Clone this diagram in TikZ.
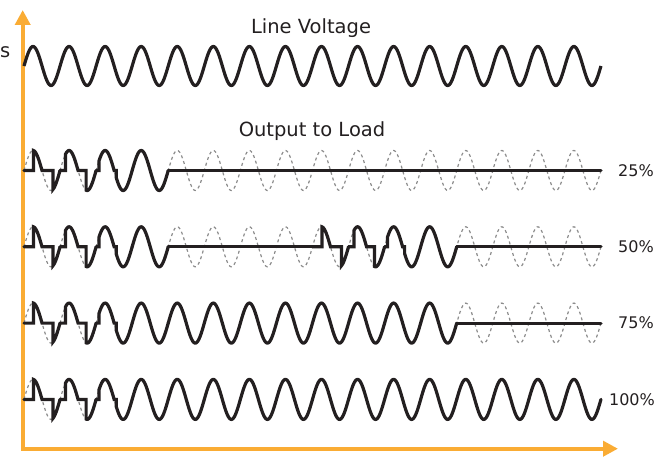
\documentclass[tikz,border=0pt]{standalone}
\usepackage{fontspec}
\setmainfont{DejaVu Sans}
\usetikzlibrary{arrows.meta}

\definecolor{axisorange}{RGB}{250,172,52}
\definecolor{waveblack}{RGB}{35,31,32}
\definecolor{dashgray}{RGB}{140,140,140}

% period of one mains cycle (px)
\newcommand{\per}{36.06}
% one cycle: index, centre, firing angle (+), firing angle (-)
\newcommand{\firecycle}[4]{%
  \draw[outwave] ({24+(#1)*\per},#2) -- ({24+(#1)*\per+#3/360*\per},#2)
    -- plot[domain=#3:180,samples=25] ({24+(#1)*\per+\x/360*\per},{#2-20*sin(\x)})
    -- ({24+(#1)*\per+#4/360*\per},#2)
    -- plot[domain=#4:360,samples=25] ({24+(#1)*\per+\x/360*\per},{#2-20*sin(\x)});
}
% soft start: four cycles from a given index
\newcommand{\softstart}[2]{%
  \firecycle{#2}{#1}{95}{290}
  \firecycle{#2+1}{#1}{55}{260}
  \firecycle{#2+2}{#1}{28}{200}
  \firecycle{#2+3}{#1}{0}{180}
}
% reference mains wave under an output row
\newcommand{\refline}[1]{%
  \draw[refwave] plot[domain=0:5760,samples=641] ({24+\x/360*\per},{#1-20*sin(\x)});
}

\begin{document}
\begin{tikzpicture}[
    x=1pt,
    y=-1pt,
    linewave/.style={
        draw=waveblack,
        line width=3.2pt
    },
    outwave/.style={
        draw=waveblack,
        line width=3.2pt,
        line cap=round
    },
    refwave/.style={
        draw=dashgray,
        line width=1.2pt,
        dash pattern=on 3pt off 3pt
    },
    axisline/.style={
        draw=axisorange,
        line width=3.8pt,
        {Triangle[length=15pt,width=15pt]}-{Triangle[length=15pt,width=15pt]}
    },
    title/.style={
        font=\fontsize{19.5}{23}\selectfont,
        text=waveblack
    },
    pct/.style={
        font=\fontsize{16}{19}\selectfont,
        text=waveblack
    }
]
\useasboundingbox (0,0) rectangle (667,457);

% Axes
\coordinate (ytip) at (22.7,10);
\coordinate (origin) at (22.7,448.7);
\coordinate (xtip) at (618,448.7);
\draw[axisline] (ytip) -- (origin) -- (xtip);

% Titles
\node[title, anchor=west, inner sep=0pt] (cut) at (0,52) {s};
\node[title] (linevolt) at (311,28) {Line Voltage};
\node[title] (output) at (312,131) {Output to Load};

% Line voltage
\draw[linewave] plot[domain=0:5760,samples=641] ({24+\x/360*\per},{66-19.5*sin(\x)});

% Reference waves
\refline{170.5}
\refline{246.8}
\refline{323.1}
\refline{399.4}

% 25%
\softstart{170.5}{0}
\draw[outwave] ({24+4*\per},170.5) -- ({24+16*\per},170.5);

% 50%
\softstart{246.8}{0}
\draw[outwave] ({24+4*\per},246.8) -- ({24+8*\per},246.8);
\softstart{246.8}{8}
\draw[outwave] ({24+12*\per},246.8) -- ({24+16*\per},246.8);

% 75%
\softstart{323.1}{0}
\foreach \k in {4,...,11} {\firecycle{\k}{323.1}{0}{180}}
\draw[outwave] ({24+12*\per},323.1) -- ({24+16*\per},323.1);

% 100%
\softstart{399.4}{0}
\foreach \k in {4,...,15} {\firecycle{\k}{399.4}{0}{180}}

% Labels
\node[pct] (p25) at (636,170.5) {25\%};
\node[pct] (p50) at (636,246.8) {50\%};
\node[pct] (p75) at (636,323.1) {75\%};
\node[pct] (p100) at (632,399.4) {100\%};

\end{tikzpicture}
\end{document}
